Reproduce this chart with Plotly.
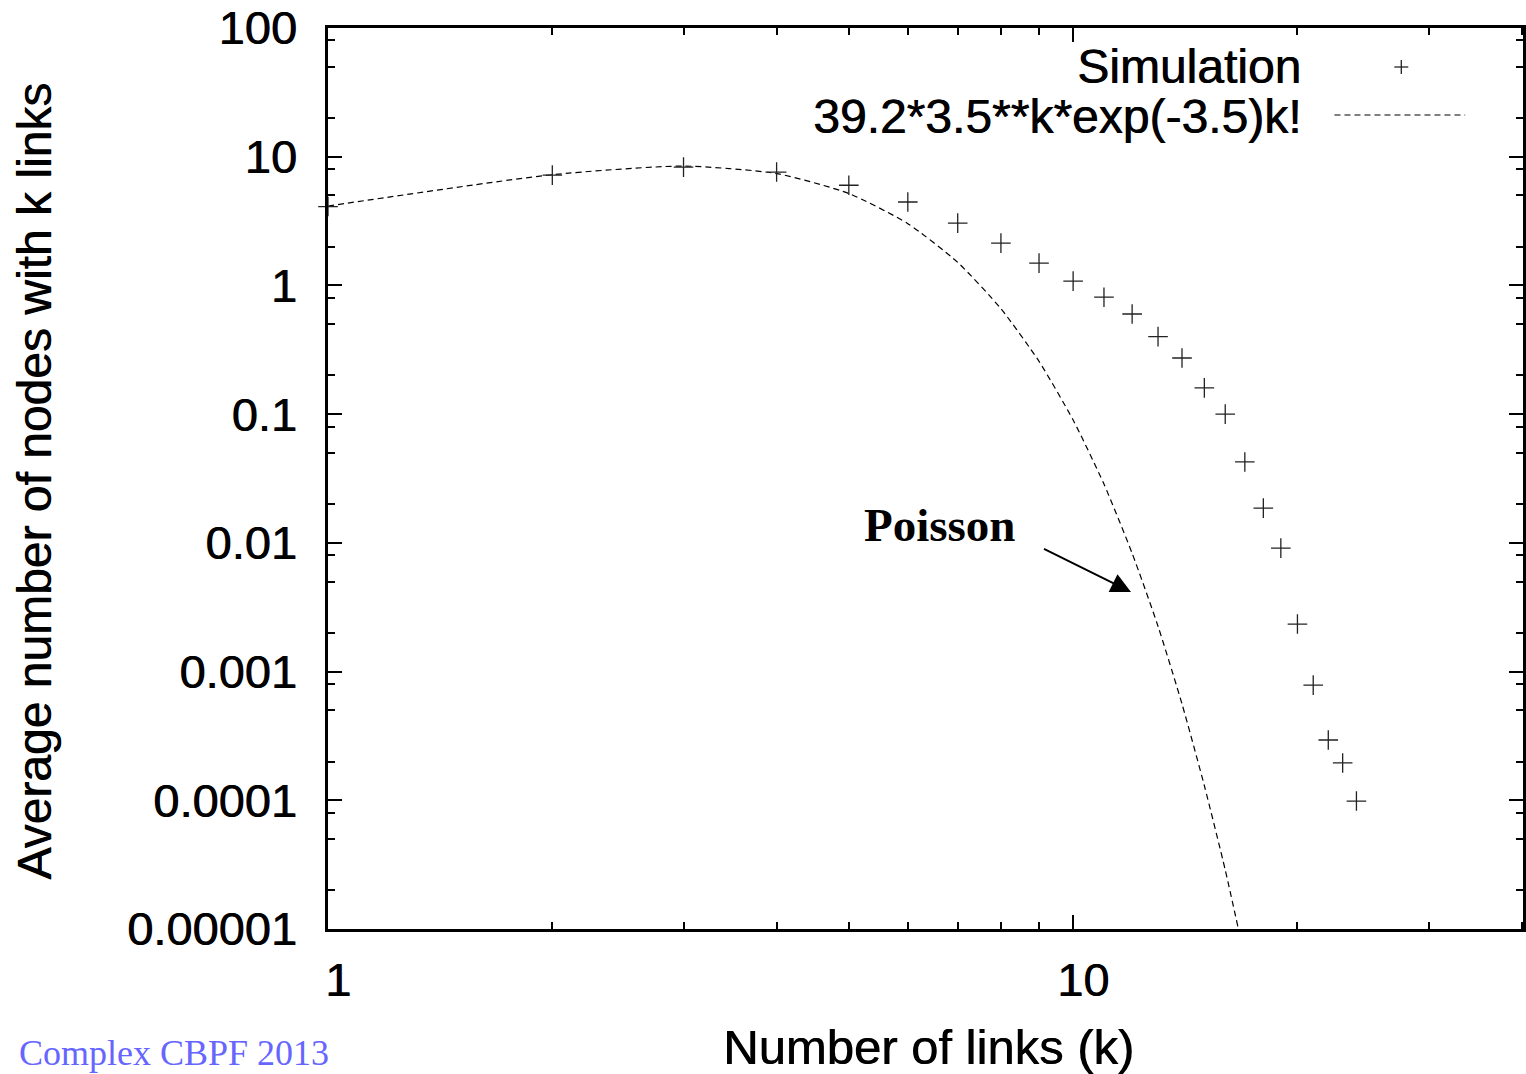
import plotly.graph_objects as go

# ---- data ----
sim_k = [1, 2, 3, 4, 5, 6, 7, 8, 9, 10, 11, 12, 13, 14, 15, 16, 17, 18, 19, 20, 21, 22, 23, 24]
sim_n = [4.1, 7.2, 8.3, 7.6, 6.0, 4.45, 3.05, 2.13, 1.49, 1.08, 0.81, 0.60, 0.40, 0.273,
         0.16, 0.10, 0.0425, 0.0186, 0.0091, 0.00234, 0.000785, 0.000294, 0.000195, 0.0000986]

poisson_k = [1, 2, 3, 4, 5, 6, 7, 8, 9, 10, 11, 12, 13, 14, 15, 16, 17]
poisson_n = [4.14, 7.25, 8.46, 7.4, 5.18, 3.02, 1.51, 0.66, 0.257, 0.09, 0.0286, 0.0083,
             0.00225, 0.00056, 0.00013, 0.0000288, 0.0000059]

y_tickvals = [1e-5, 1e-4, 1e-3, 1e-2, 1e-1, 1, 10, 100]
y_ticktext = ["0.00001", "0.0001", "0.001", "0.01", "0.1", "1", "10", "100"]
y_minor = [m * 10.0 ** e for e in range(-5, 2) for m in (2, 5, 8)]
x_tickvals = [1, 10]
x_ticktext = ["1", "10"]
x_minor = [2, 3, 4, 5, 6, 7, 8, 9, 20, 30, 40]

legend_sim = "Simulation"
legend_fit = "39.2*3.5**k*exp(-3.5)k!"

W, H = 1526, 1074
L, R, T, B = 328, 0, 28, 145
SANS = "Liberation Sans, Arial, sans-serif"
SERIF = "Liberation Serif, Times New Roman, serif"
SHADOW = "0.7px 0 0 black"


def sans(size):
    return dict(family=SANS, size=size, color="black", shadow=SHADOW)


fig = go.Figure()
fig.add_trace(go.Scatter(
    x=poisson_k, y=poisson_n, mode="lines", name=legend_fit,
    line=dict(color="black", width=1.2, dash="6px,4px", shape="spline", smoothing=0.6),
    cliponaxis=True, showlegend=False))
fig.add_trace(go.Scatter(
    x=sim_k, y=sim_n, mode="markers", name=legend_sim,
    marker=dict(symbol="cross-thin", size=14, line=dict(width=1.3, color="#222")),
    cliponaxis=False, showlegend=False))

pw = W - L - R
ph = H - T - B


def px(xp):
    return (xp - L) / pw


def py(yp):
    return (H - B - yp) / ph


fig.update_layout(
    width=W, height=H,
    margin=dict(l=L, r=R, t=T, b=B),
    paper_bgcolor="white", plot_bgcolor="white",
    font=dict(family=SANS, size=47, color="black"),
    xaxis=dict(
        type="log", range=[0, (W - L - R) / 747.0],
        tickmode="array", tickvals=x_tickvals, ticktext=x_ticktext,
        ticks="inside", ticklen=14, tickwidth=2, tickcolor="black",
        showline=True, linewidth=2.5, linecolor="black", mirror="ticks",
        showgrid=False, zeroline=False, ticklabelstandoff=8, ticklabelshift=10,
        tickfont=sans(47),
        minor=dict(tickmode="array", tickvals=x_minor, ticks="inside", ticklen=7,
                   tickwidth=2, tickcolor="black", showgrid=False),
    ),
    yaxis=dict(
        type="log", range=[-5, 2],
        tickmode="array", tickvals=y_tickvals, ticktext=y_ticktext,
        ticks="inside", ticklen=14, tickwidth=2, tickcolor="black",
        showline=True, linewidth=2.5, linecolor="black", mirror="ticks",
        showgrid=False, zeroline=False, ticklabelstandoff=19,
        tickfont=sans(47),
        minor=dict(tickmode="array", tickvals=y_minor, ticks="inside", ticklen=7,
                   tickwidth=2, tickcolor="black", showgrid=False),
    ),
    showlegend=False,
)

annotations = [
    dict(text="Average number of nodes with k links", xref="paper", yref="paper",
         x=px(33), y=py(481), textangle=-90, showarrow=False,
         xanchor="center", yanchor="middle", font=sans(48)),
    dict(text="Number of links (k)", xref="paper", yref="paper",
         x=px(930), y=py(1047), showarrow=False, xanchor="center", yanchor="middle",
         font=sans(49)),
    dict(text="Complex CBPF 2013", xref="paper", yref="paper",
         x=px(16), y=py(1053), showarrow=False, xanchor="left", yanchor="middle",
         font=dict(family=SERIF, size=36, color="#6666ff")),
    dict(text="<b>Poisson</b>", xref="paper", yref="paper",
         x=px(942), y=py(525), showarrow=False, xanchor="center", yanchor="middle",
         font=dict(family=SERIF, size=47, color="black")),
    dict(text=" ", xref="paper", yref="paper", x=px(1133), y=py(592),
         showarrow=True, ax=1038 - 1133, ay=545 - 592, axref="pixel", ayref="pixel",
         arrowhead=2, arrowsize=2.0, arrowwidth=2, arrowcolor="black", standoff=0),
    dict(text=legend_sim, xref="paper", yref="paper", x=px(1305), y=py(67),
         showarrow=False, xanchor="right", yanchor="middle", font=sans(48)),
    dict(text=legend_fit, xref="paper", yref="paper", x=px(1305), y=py(116),
         showarrow=False, xanchor="right", yanchor="middle", font=sans(48)),
]
fig.update_layout(annotations=annotations)

shapes = [
    dict(type="line", xref="paper", yref="paper", x0=px(1397), x1=px(1411), y0=py(67), y1=py(67),
         line=dict(color="#222", width=1.3)),
    dict(type="line", xref="paper", yref="paper", x0=px(1404), x1=px(1404), y0=py(60), y1=py(74),
         line=dict(color="#222", width=1.3)),
    dict(type="line", xref="paper", yref="paper", x0=px(1337), x1=px(1468), y0=py(115), y1=py(115),
         line=dict(color="black", width=1.2, dash="6px,4px")),
]
fig.update_layout(shapes=shapes)

fig.write_html("out.html")
